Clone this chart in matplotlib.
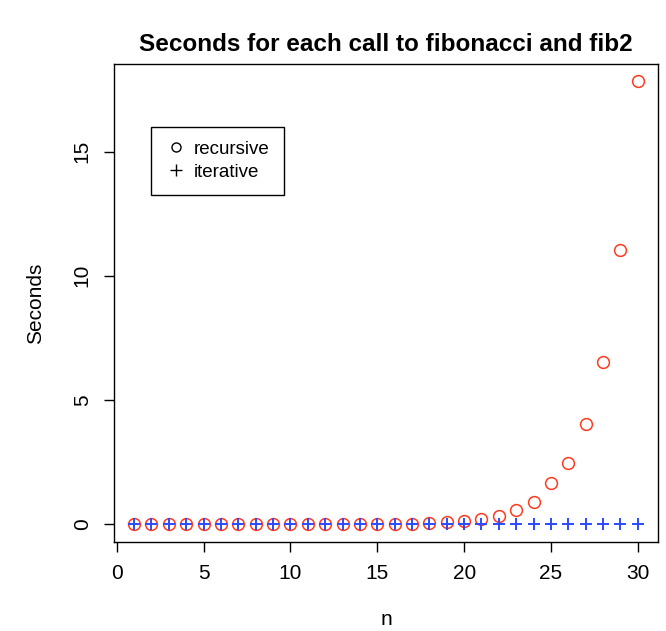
import matplotlib
matplotlib.use("Agg")
import matplotlib.pyplot as plt
from matplotlib.lines import Line2D

plt.rcParams['font.family'] = ['Liberation Sans', 'DejaVu Sans']

# call sizes and timings (seconds)
n = list(range(1, 31))
recursive = [0.0, 0.0, 0.0, 0.0, 0.0, 0.0, 0.0, 0.0, 0.001, 0.001,
             0.002, 0.003, 0.004, 0.007, 0.012, 0.02, 0.03, 0.05, 0.08, 0.13,
             0.21, 0.35, 0.56, 0.91, 1.68, 2.45, 4.05, 6.52, 11.05, 17.82]
iterative = [0.0] * 30

red = "#ff3a20"
blue = "#2a4bff"

fig = plt.figure(figsize=(6.66, 6.31), dpi=100)
ax = fig.add_axes([0.171, 0.141, 0.817, 0.758])

ax.plot(n, recursive, linestyle="none", marker="o", markersize=8.5,
        markerfacecolor="none", markeredgecolor=red, markeredgewidth=1.1)
ax.plot(n, iterative, linestyle="none", marker="+", markersize=8.5,
        color=blue, markeredgewidth=1.4)

# R-style 4% padding
ax.set_xlim(1 - 29 * 0.04, 30 + 29 * 0.04)
top = max(recursive)
ax.set_ylim(-top * 0.04, top * 1.04)

ax.set_xticks([0, 5, 10, 15, 20, 25, 30])
ax.set_yticks([0, 5, 10, 15])
ax.tick_params(direction="out", length=7, width=1, labelsize=15)
ax.tick_params(axis="x", pad=9)
ax.tick_params(axis="y", pad=9)
for lbl in ax.get_yticklabels():
    lbl.set_rotation(90)
    lbl.set_va("center")
for s in ax.spines.values():
    s.set_linewidth(1)

ax.set_title("Seconds for each call to fibonacci and fib2",
             fontsize=17.5, fontweight="bold", pad=9)
ax.set_xlabel("n", fontsize=15, labelpad=19)
ax.set_ylabel("Seconds", fontsize=15, labelpad=20)

handles = [Line2D([], [], linestyle="none", marker="o", markersize=6.5,
                  markerfacecolor="none", markeredgecolor="black"),
           Line2D([], [], linestyle="none", marker="+", markersize=8,
                  color="black")]
leg = ax.legend(handles, ["recursive", "iterative"], loc="upper left",
                bbox_to_anchor=(0.068, 0.868), fontsize=13.5, fancybox=False,
                framealpha=1, edgecolor="black", borderpad=0.75,
                handletextpad=0.35, handlelength=1.2, labelspacing=0.3,
                borderaxespad=0)
leg.get_frame().set_linewidth(1)

fig.savefig("out.png", dpi=100)
